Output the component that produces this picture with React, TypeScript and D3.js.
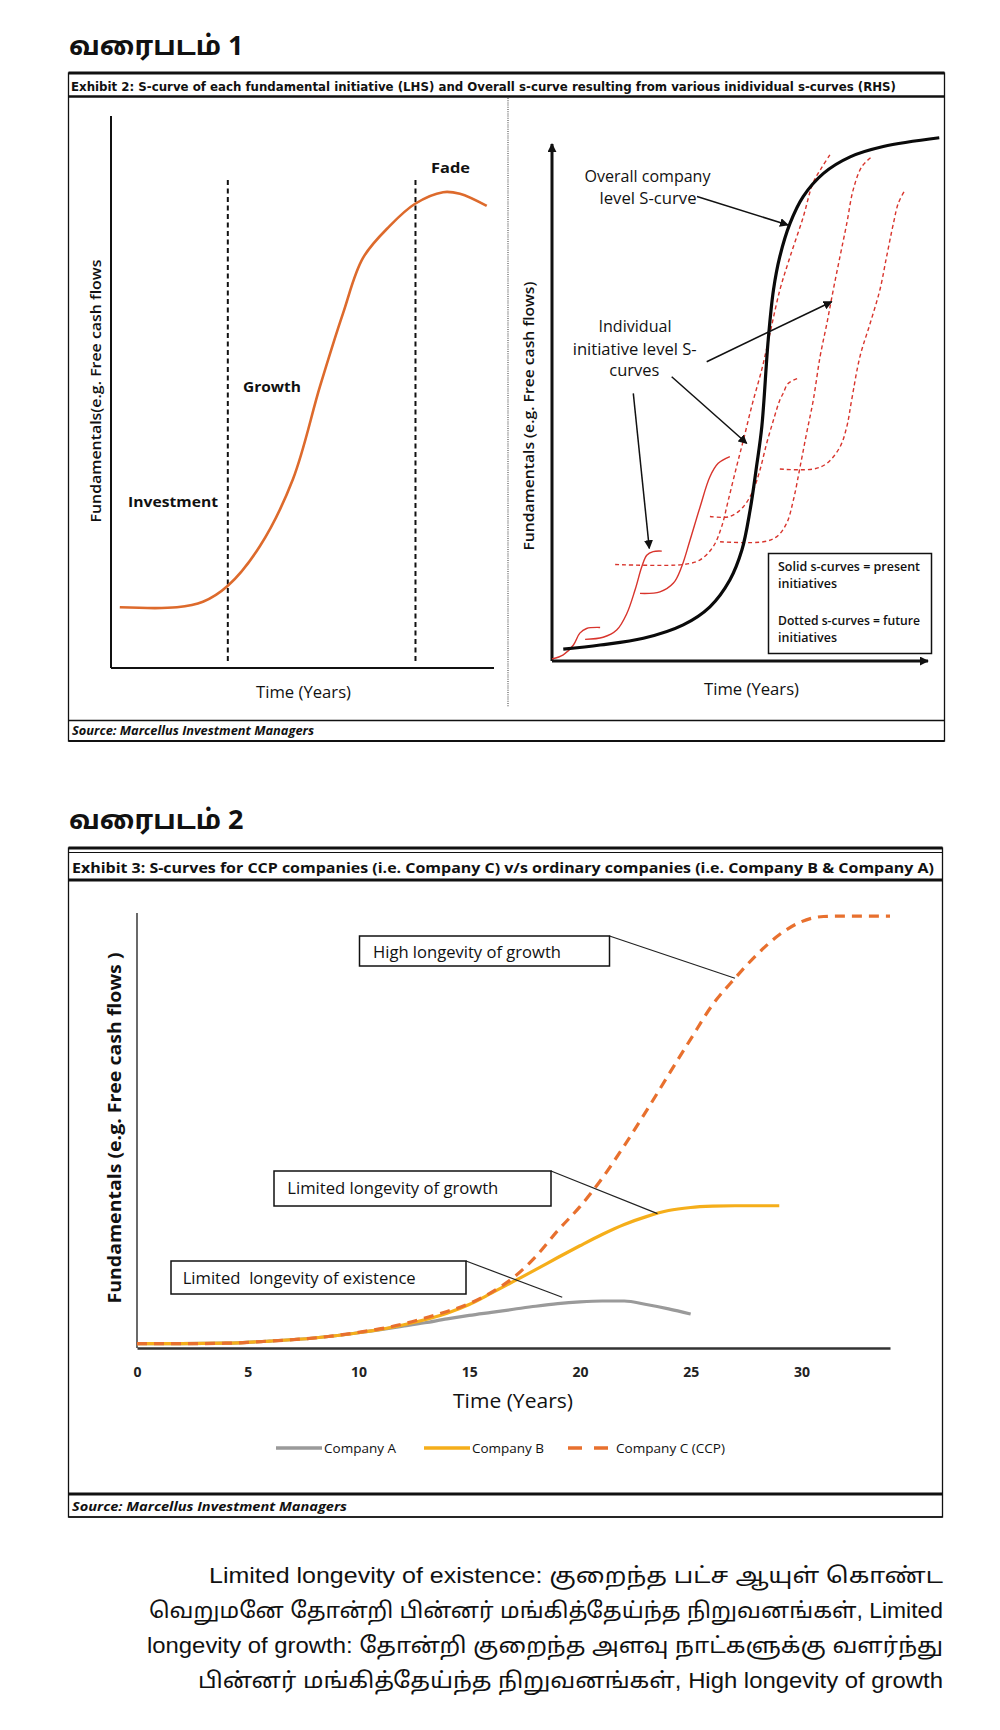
import React, { useEffect, useRef } from 'react';
import * as d3 from 'd3';

type Pt = [number, number];

// ---------- Exhibit 2, LHS: one initiative (x, y in % of plot) ----------
const lhsCurve: Pt[] = [
  [2.3, 11], [17.2, 11], [24, 12], [30.5, 14.9], [38.9, 22.1], [47.5, 34.2],
  [54.6, 51.1], [60.6, 64.3], [65.8, 74.3], [72.8, 80.1], [79.4, 84.1],
  [86.7, 86.2], [91.1, 85.9], [98.1, 83.7],
];
const lhsPhaseEdges = [30.5, 79.5];
const lhsPhaseLabels = ['Investment', 'Growth', 'Fade'];

// ---------- Exhibit 2, RHS: overall curve + individual initiatives ----------
const overallCurve: Pt[] = [
  [3, 2.3], [12.8, 3.1], [24.3, 4.4], [34.9, 7], [42, 10.5], [47.3, 15.7],
  [50.5, 21.5], [52.7, 29.3], [54.4, 37.7], [55.8, 45.4], [57.5, 62.2],
  [58.9, 71.9], [60.6, 78.4], [63.3, 84.8], [66.8, 90], [72.2, 94.5],
  [79.3, 97.7], [88.1, 99.7], [103, 101.4],
];
const solidCurves: Pt[][] = [
  [[0, 0.4], [3, 1.2], [5.7, 3.1], [7.4, 5.4], [9.2, 6.3], [12.8, 6.5]],
  [[8.8, 4.2], [13.6, 4.6], [17.2, 6], [19.9, 9.2], [22.1, 13.8], [23.9, 18.3], [25.2, 20.5], [26.9, 21.2], [29.2, 21.3]],
  [[23.4, 13.1], [28.7, 13.4], [32.3, 15.1], [34.5, 18.3], [36.7, 23.4], [39.4, 29.9], [42, 35.7], [44.2, 38.3], [47.3, 39.6]],
];
const dottedCurves: Pt[][] = [
  [[16.8, 18.7], [34.9, 18.7], [39.4, 19.6], [42.9, 22.2], [45.1, 26], [46.9, 31.2], [49.1, 37.7], [50.9, 42.8],
    [53.2, 49.6], [55.9, 56.8], [58, 63.6], [60.6, 71.9], [63.3, 78.3], [66.8, 86], [69.4, 92.6], [71.8, 95.7], [73.9, 98.1]],
  [[42, 28], [47.3, 28], [50.9, 29.9], [53.5, 33.1], [55.3, 37], [57.1, 42.2], [58.9, 46.7], [60.6, 50.6],
    [61.5, 51.9], [62.8, 53.8], [65.5, 54.8]],
  [[44.7, 23.1], [56.2, 23.1], [59.8, 24.1], [62.4, 26.7], [64.2, 31.2], [66, 37.7], [67.7, 44.1], [69.5, 50.6],
    [71.3, 59], [73.1, 65.4], [74.8, 71.9], [76.6, 78.4], [78.4, 84.8], [80.1, 91.3], [82.4, 95.8], [85, 97.7]],
  [[60.6, 37.2], [69.5, 37.2], [73.1, 38.3], [76.6, 41.5], [78.4, 45.4], [79.7, 50.6], [81.9, 59], [84.6, 65.4],
    [87.2, 71.9], [89, 78.4], [90.8, 84.8], [92.1, 88.7], [93.9, 91.3]],
];
const rhsLegendLines = ['Solid s-curves = present', 'initiatives', 'Dotted s-curves = future', 'initiatives'];

// ---------- Exhibit 3: companies (year, fundamentals index) ----------
const companyA: Pt[] = [
  [0, 1], [2, 1], [4, 1.1], [6, 1.6], [8, 2.3], [10, 3.5], [12, 5], [13, 5.8], [14, 6.7], [15, 7.5],
  [16, 8.2], [17, 8.9], [18, 9.6], [19, 10.2], [20, 10.6], [21, 10.8], [22, 10.8], [23, 10], [24, 9], [25, 7.8],
];
const companyB: Pt[] = [
  [0, 1], [2, 1], [4, 1.1], [6, 1.6], [8, 2.3], [10, 3.5], [12, 5.3], [14, 8], [15, 10], [16, 12.6],
  [17, 15.3], [18, 18], [19, 20.8], [20, 23.5], [21, 26.1], [22, 28.4], [23, 30.2], [24, 31.6], [25, 32.3],
  [26, 32.6], [27, 32.7], [29, 32.7],
];
const companyC: Pt[] = [
  [0, 1], [2, 1], [4, 1.1], [6, 1.6], [8, 2.3], [10, 3.6], [12, 5.5], [13, 6.9], [14, 8.4], [15, 10.2],
  [16, 12.8], [17, 16.2], [18, 21], [19, 27], [20, 32.5], [21, 39], [22, 46.5], [23, 54.5], [24, 62.8],
  [25, 71], [26, 79], [27, 85], [28, 90.5], [29, 95], [30, 98], [31, 99.2], [32, 99.3], [34, 99.3],
];
const seriesNames = ['Company A', 'Company B', 'Company C (CCP)'];
const seriesColors = ['#9a9a9a', '#f5ae1a', '#e8702e'];
const xTicks = [0, 5, 10, 15, 20, 25, 30];

const noteLines = [
  'Limited longevity of existence: குறைந்த பட்ச ஆயுள் கொண்ட',
  'வெறுமனே தோன்றி பின்னர் மங்கித்தேய்ந்த நிறுவனங்கள், Limited',
  'longevity of growth: தோன்றி குறைந்த அளவு நாட்களுக்கு வளர்ந்து',
  'பின்னர் மங்கித்தேய்ந்த நிறுவனங்கள், High longevity of growth',
];

const valueAt = (s: Pt[], yr: number) => {
  const i = d3.bisector((d: Pt) => d[0]).left(s, yr);
  if (i <= 0) return s[0][1];
  if (i >= s.length) return s[s.length - 1][1];
  const a = s[i - 1], b = s[i];
  return a[1] + ((b[1] - a[1]) * (yr - a[0])) / (b[0] - a[0]);
};

const SANS = "'Open Sans', 'Noto Sans', sans-serif";
const TAMIL = "'Noto Sans Tamil', 'Latha', 'Liberation Sans Narrow', 'Liberation Sans', sans-serif";
const NOTE = "'Liberation Sans Narrow', 'Liberation Sans', 'Noto Sans Tamil', sans-serif";

export default function App() {
  const axisRef = useRef<SVGGElement>(null);

  const xL = d3.scaleLinear().domain([0, 100]).range([111, 494]);
  const yL = d3.scaleLinear().domain([0, 100]).range([668, 116]);
  const xR = d3.scaleLinear().domain([0, 100]).range([552, 928]);
  const yR = d3.scaleLinear().domain([0, 100]).range([661, 145]);
  const x2 = d3.scaleLinear().domain([0, 34]).range([137, 890]);
  const y2 = d3.scaleLinear().domain([0, 100]).range([1348, 913]);

  const lineL = d3.line<Pt>().x(d => xL(d[0])).y(d => yL(d[1])).curve(d3.curveCatmullRom);
  const lineR = d3.line<Pt>().x(d => xR(d[0])).y(d => yR(d[1])).curve(d3.curveCatmullRom);
  const line2 = d3.line<Pt>().x(d => x2(d[0])).y(d => y2(d[1])).curve(d3.curveMonotoneX);

  useEffect(() => {
    const g = d3.select(axisRef.current!);
    g.selectAll('*').remove();
    g.call(
      d3.axisBottom(x2).tickValues(xTicks).tickSize(0).tickSizeOuter(0).tickPadding(19).tickFormat(d3.format('d'))
    );
    g.select('.domain').attr('stroke', '#333').attr('stroke-width', 2.5);
    g.selectAll('text')
      .attr('font-family', SANS)
      .attr('font-size', 14)
      .attr('font-weight', 'bold')
      .attr('fill', '#222');
  }, []);

  const series = [companyA, companyB, companyC];
  const lbl = { fontFamily: SANS, fill: '#111' };

  const highTarget: Pt = [x2(27), y2(valueAt(companyC, 27))];
  const growthTarget: Pt = [x2(23.5), y2(valueAt(companyB, 23.5))];
  const existTarget: Pt = [x2(19.2), y2(valueAt(companyA, 19.2)) - 6];

  return (
    <svg width={1000} height={1730} style={{ position: 'absolute', left: 0, top: 0, background: '#fff' }}>
      <defs>
        <marker id="arr" viewBox="0 0 10 10" refX="9" refY="5" markerWidth="9" markerHeight="9"
          markerUnits="userSpaceOnUse" orient="auto">
          <path d="M0,0 L10,5 L0,10 z" fill="#111" />
        </marker>
      </defs>

      {/* ---------------- Title 1 ---------------- */}
      <text x={69} y={55} fontFamily={TAMIL} fontSize={27} fontWeight="bold" fill="#111">வரைபடம் 1</text>

      {/* Exhibit 2 frame */}
      <rect x={68.5} y={73} width={876} height={668} fill="none" stroke="#111" strokeWidth={1.3} />
      <line x1={68.5} x2={944.5} y1={73} y2={73} stroke="#111" strokeWidth={3} />
      <line x1={68.5} x2={944.5} y1={96.5} y2={96.5} stroke="#111" strokeWidth={2.5} />
      <text x={71} y={91} fontFamily="'DejaVu Sans', sans-serif" fontWeight="bold" fontSize={12}
        textLength={825} lengthAdjust="spacingAndGlyphs" fill="#111">
        Exhibit 2: S-curve of each fundamental initiative (LHS) and Overall s-curve resulting from various inidividual s-curves (RHS)
      </text>
      <line x1={68.5} x2={944.5} y1={720.5} y2={720.5} stroke="#111" strokeWidth={1.5} />
      <line x1={68.5} x2={944.5} y1={741} y2={741} stroke="#111" strokeWidth={2} />
      <text x={72} y={735} fontFamily={SANS} fontWeight="bold" fontStyle="italic" fontSize={12}
        textLength={242} lengthAdjust="spacingAndGlyphs" fill="#111">Source: Marcellus Investment Managers</text>

      {/* LHS */}
      <line x1={xL(0)} x2={xL(0)} y1={yL(100)} y2={yL(0)} stroke="#111" strokeWidth={2} />
      <line x1={xL(0)} x2={xL(100)} y1={yL(0)} y2={yL(0)} stroke="#111" strokeWidth={2} />
      {lhsPhaseEdges.map((e, i) => (
        <line key={i} x1={xL(e)} x2={xL(e)} y1={yL(88.4)} y2={yL(0.9)} stroke="#111" strokeWidth={2}
          strokeDasharray="5,3.5" />
      ))}
      <path d={lineL(lhsCurve) || ''} fill="none" stroke="#dd6a2c" strokeWidth={2.6} />
      <text x={128} y={507} {...lbl} fontWeight="bold" fontSize={15} textLength={90} lengthAdjust="spacingAndGlyphs">{lhsPhaseLabels[0]}</text>
      <text x={243} y={392} {...lbl} fontWeight="bold" fontSize={15} textLength={58} lengthAdjust="spacingAndGlyphs">{lhsPhaseLabels[1]}</text>
      <text x={431} y={173} {...lbl} fontWeight="bold" fontSize={15} textLength={39} lengthAdjust="spacingAndGlyphs">{lhsPhaseLabels[2]}</text>
      <text transform="translate(95,391) rotate(-90)" textAnchor="middle" dominantBaseline="central" {...lbl}
        fontSize={15} fontWeight={600} textLength={263} lengthAdjust="spacingAndGlyphs">Fundamentals(e.g. Free cash flows</text>
      <text x={303.5} y={698} textAnchor="middle" {...lbl} fontSize={15.5} textLength={95} lengthAdjust="spacingAndGlyphs">Time (Years)</text>

      {/* divider */}
      <line x1={508} x2={508} y1={98} y2={707} stroke="#555" strokeWidth={1.2} strokeDasharray="1,1.2" />

      {/* RHS */}
      <line x1={xR(0)} x2={xR(0)} y1={yR(0)} y2={yR(100) - 1} stroke="#111" strokeWidth={3} markerEnd="url(#arr)" />
      <line x1={xR(0)} x2={xR(100)} y1={yR(0)} y2={yR(0)} stroke="#111" strokeWidth={3} markerEnd="url(#arr)" />
      {solidCurves.map((c, i) => (
        <path key={'s' + i} d={lineR(c) || ''} fill="none" stroke="#d8342c" strokeWidth={1.4} />
      ))}
      {dottedCurves.map((c, i) => (
        <path key={'d' + i} d={lineR(c) || ''} fill="none" stroke="#d8342c" strokeWidth={1.4} strokeDasharray="4,3" />
      ))}
      <path d={lineR(overallCurve) || ''} fill="none" stroke="#0a0a0a" strokeWidth={3.2} />

      <text x={647.5} y={182} textAnchor="middle" {...lbl} fontSize={16} textLength={126} lengthAdjust="spacingAndGlyphs">Overall company</text>
      <text x={648} y={204} textAnchor="middle" {...lbl} fontSize={16} textLength={97} lengthAdjust="spacingAndGlyphs">level S-curve</text>
      <line x1={697} y1={196.5} x2={788} y2={225} stroke="#111" strokeWidth={1.5} markerEnd="url(#arr)" />

      <text x={635} y={332} textAnchor="middle" {...lbl} fontSize={16} textLength={73} lengthAdjust="spacingAndGlyphs">Individual</text>
      <text x={634.7} y={355} textAnchor="middle" {...lbl} fontSize={16} textLength={124} lengthAdjust="spacingAndGlyphs">initiative level S-</text>
      <text x={634.3} y={376} textAnchor="middle" {...lbl} fontSize={16} textLength={50} lengthAdjust="spacingAndGlyphs">curves</text>
      <line x1={706.7} y1={361.7} x2={831.7} y2={301.7} stroke="#111" strokeWidth={1.5} markerEnd="url(#arr)" />
      <line x1={671.7} y1={376.7} x2={746.7} y2={443.3} stroke="#111" strokeWidth={1.5} markerEnd="url(#arr)" />
      <line x1={633.3} y1={393.3} x2={649.3} y2={548.3} stroke="#111" strokeWidth={1.5} markerEnd="url(#arr)" />

      <rect x={768.5} y={553.5} width={163} height={100} fill="#fff" stroke="#111" strokeWidth={1.5} />
      {rhsLegendLines.map((t, i) => (
        <text key={i} x={778} y={[571, 588, 624.5, 642][i]} {...lbl} fontSize={12.5} fontWeight={600}
          textLength={i % 2 === 0 ? 142 : 59} lengthAdjust="spacingAndGlyphs">{t}</text>
      ))}
      <text transform="translate(528,416) rotate(-90)" textAnchor="middle" dominantBaseline="central" {...lbl}
        fontSize={15} fontWeight={600} textLength={269} lengthAdjust="spacingAndGlyphs">Fundamentals (e.g. Free cash flows)</text>
      <text x={751.5} y={695} textAnchor="middle" {...lbl} fontSize={15.5} textLength={95} lengthAdjust="spacingAndGlyphs">Time (Years)</text>

      {/* ---------------- Title 2 ---------------- */}
      <text x={69} y={829} fontFamily={TAMIL} fontSize={27} fontWeight="bold" fill="#111">வரைபடம் 2</text>

      {/* Exhibit 3 frame */}
      <rect x={68.5} y={848} width={874} height={669} fill="none" stroke="#111" strokeWidth={1.3} />
      <line x1={68.5} x2={942.5} y1={848} y2={848} stroke="#111" strokeWidth={3} />
      <line x1={68.5} x2={942.5} y1={852.5} y2={852.5} stroke="#111" strokeWidth={1} />
      <line x1={68.5} x2={942.5} y1={880} y2={880} stroke="#111" strokeWidth={3} />
      <text x={72} y={873} fontFamily={SANS} fontWeight="bold" fontSize={15} textLength={862}
        lengthAdjust="spacingAndGlyphs" fill="#111">
        Exhibit 3: S-curves for CCP companies (i.e. Company C) v/s ordinary companies (i.e. Company B &amp; Company A)
      </text>
      <line x1={68.5} x2={942.5} y1={1494} y2={1494} stroke="#111" strokeWidth={3} />
      <line x1={68.5} x2={942.5} y1={1517} y2={1517} stroke="#111" strokeWidth={1.5} />
      <text x={72} y={1511} fontFamily={SANS} fontWeight="bold" fontStyle="italic" fontSize={13}
        textLength={275} lengthAdjust="spacingAndGlyphs" fill="#111">Source: Marcellus Investment Managers</text>

      {/* plot */}
      <line x1={x2(0)} x2={x2(0)} y1={y2(100)} y2={y2(0)} stroke="#444" strokeWidth={1.6} />
      <g ref={axisRef} transform={`translate(0,${y2(0)})`} />
      {series.map((s, i) => (
        <path key={i} d={line2(s) || ''} fill="none" stroke={seriesColors[i]} strokeWidth={3.2}
          strokeDasharray={i === 2 ? '10,7' : undefined} />
      ))}

      {/* annotations */}
      <line x1={609.5} y1={936} x2={highTarget[0]} y2={highTarget[1]} stroke="#222" strokeWidth={1.2} />
      <rect x={359.5} y={936} width={250} height={30} fill="#fff" stroke="#111" strokeWidth={1.5} />
      <text x={373} y={958} {...lbl} fontSize={16} textLength={188} lengthAdjust="spacingAndGlyphs">High longevity of growth</text>

      <line x1={551} y1={1171} x2={growthTarget[0]} y2={growthTarget[1]} stroke="#222" strokeWidth={1.2} />
      <rect x={274} y={1171} width={277} height={35} fill="#fff" stroke="#111" strokeWidth={1.5} />
      <text x={287.3} y={1194} {...lbl} fontSize={16} textLength={211} lengthAdjust="spacingAndGlyphs">Limited longevity of growth</text>

      <line x1={466} y1={1261} x2={existTarget[0]} y2={existTarget[1]} stroke="#222" strokeWidth={1.2} />
      <rect x={171} y={1261} width={295} height={33} fill="#fff" stroke="#111" strokeWidth={1.5} />
      <text x={182.7} y={1284} {...lbl} fontSize={16} textLength={233} lengthAdjust="spacingAndGlyphs"
        style={{ whiteSpace: 'pre' }}>Limited  longevity of existence</text>

      <text transform="translate(114,1128) rotate(-90)" textAnchor="middle" dominantBaseline="central" {...lbl}
        fontSize={18} fontWeight="bold" textLength={351} lengthAdjust="spacingAndGlyphs">Fundamentals (e.g. Free cash flows )</text>
      <text x={513} y={1408} textAnchor="middle" {...lbl} fontSize={20} textLength={120} lengthAdjust="spacingAndGlyphs">Time (Years)</text>

      {/* legend */}
      {seriesNames.map((n, i) => {
        const lx = [276, 424, 568][i];
        const tw = [72, 72, 109][i];
        return (
          <g key={n}>
            <line x1={lx} x2={lx + (i === 2 ? 40 : 46)} y1={1448} y2={1448} stroke={seriesColors[i]} strokeWidth={3.5}
              strokeDasharray={i === 2 ? '14,12' : undefined} />
            <text x={lx + 48} y={1452.5} {...lbl} fontSize={12.5} textLength={tw}
              lengthAdjust="spacingAndGlyphs">{n}</text>
          </g>
        );
      })}

      {/* notes */}
      {noteLines.map((t, i) => (
        <text key={i} x={[209, 149, 147, 198][i]} y={[1583, 1618, 1653, 1688][i]} fontFamily={NOTE} fontSize={22}
          fill="#111" textLength={[734, 794, 796, 745][i]} lengthAdjust="spacingAndGlyphs">{t}</text>
      ))}
    </svg>
  );
}
